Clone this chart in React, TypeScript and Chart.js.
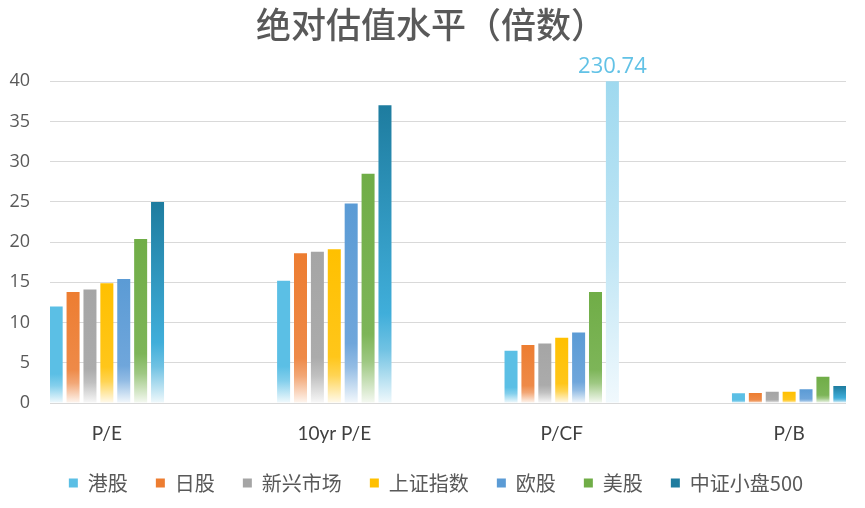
import React, { useEffect, useRef } from 'react';
import { Chart, registerables } from 'chart.js';

Chart.register(...registerables);

const chartTitle = '绝对估值水平（倍数）';
const categories = ['P/E', '10yr P/E', 'P/CF', 'P/B'];
const seriesNames = ['港股', '日股', '新兴市场', '上证指数', '欧股', '美股', '中证小盘500'];
const hkValues = [12.0, 15.2, 6.5, 1.2];
const jpValues = [13.8, 18.6, 7.2, 1.25];
const emValues = [14.1, 18.8, 7.4, 1.4];
const shValues = [14.9, 19.1, 8.1, 1.4];
const euValues = [15.4, 24.8, 8.75, 1.7];
const usValues = [20.4, 28.5, 13.8, 3.25];
const csi500Values = [25.0, 37.0, 230.74, 2.1];
const yTickValues = [0, 5, 10, 15, 20, 25, 30, 35, 40];
const yMin = 0;
const yMax = 40;

const seriesValues = [hkValues, jpValues, emValues, shValues, euValues, usValues, csi500Values];
const seriesColors = ['#5BBFE5', '#ED7D31', '#A5A5A5', '#FFC000', '#5B9BD5', '#70AD47', '#1E7C9F'];
const seriesMidColors = ['#5BBFE5', '#EE8A48', '#ABABAB', '#FFC61A', '#6FA6DB', '#7DB558', '#40AEDA'];
const overflowColor = '#9FD9EF';
const overflowLabelColor = '#62C2E6';

function hexToRgb(h: string) {
  const n = parseInt(h.slice(1), 16);
  return [(n >> 16) & 255, (n >> 8) & 255, n & 255];
}
function mixWhite(h: string, t: number) {
  const [r, g, b] = hexToRgb(h);
  const m = (c: number) => Math.round(c + (255 - c) * t);
  return `rgb(${m(r)},${m(g)},${m(b)})`;
}

const overflowLabelPlugin = {
  id: 'overflowLabel',
  afterDatasetsDraw(chart: any) {
    const { ctx, chartArea } = chart;
    chart.data.datasets.forEach((ds: any, di: number) => {
      const meta = chart.getDatasetMeta(di);
      ds.data.forEach((p: any, i: number) => {
        if (p.y > yMax) {
          const el = meta.data[i];
          ctx.save();
          ctx.font = '22px "Open Sans", "Noto Sans", sans-serif';
          ctx.fillStyle = overflowLabelColor;
          ctx.textAlign = 'center';
          ctx.textBaseline = 'middle';
          ctx.fillText(p.y.toFixed(2), el.x, chartArea.top - 14);
          ctx.restore();
        }
      });
    });
  },
};

// shift title and legend blocks slightly right, as in the reference layout
const blockShiftPlugin = {
  id: 'blockShift',
  afterLayout(chart: any) {
    const lg = chart.legend;
    if (lg) {
      lg.left += 13;
      lg.right += 13;
    }
    const tb = chart.titleBlock;
    if (tb) {
      tb.left += 8;
      tb.right += 8;
    }
  },
};

export default function App() {
  const canvasRef = useRef<HTMLCanvasElement | null>(null);

  useEffect(() => {
    document.body.style.margin = '0';
    const canvas = canvasRef.current;
    if (!canvas) return;

    const datasets = seriesNames.map((name, si) => {
      const color = seriesColors[si];
      const mid = seriesMidColors[si];
      return {
        label: name,
        data: seriesValues[si].map((v, i) => ({ x: i, y: v })),
        borderWidth: 0,
        backgroundColor: (ctx: any) => {
          if (ctx.type !== 'data' || !ctx.raw) return color;
          const chart = ctx.chart;
          const area = chart.chartArea;
          const ys = chart.scales.y;
          if (!area || !ys) return color;
          const v = ctx.raw.y;
          const top = ys.getPixelForValue(Math.min(v, yMax));
          const bottom = ys.getPixelForValue(0);
          if (!(bottom > top)) return color;
          const g = chart.ctx.createLinearGradient(0, top, 0, bottom);
          if (v > yMax) {
            g.addColorStop(0, overflowColor);
            g.addColorStop(0.55, mixWhite(overflowColor, 0.35));
            g.addColorStop(1, mixWhite(overflowColor, 0.85));
            return g;
          }
          g.addColorStop(0, color);
          g.addColorStop(0.7, mid);
          g.addColorStop(0.82, mixWhite(mid, 0.25));
          g.addColorStop(1, mixWhite(mid, 0.92));
          return g;
        },
        categoryPercentage: 0.52,
        barPercentage: 0.77,
      };
    });

    const chart = new Chart(canvas, {
      type: 'bar',
      data: { datasets },
      plugins: [overflowLabelPlugin, blockShiftPlugin],
      options: {
        responsive: false,
        animation: false,
        layout: { padding: { left: 0, right: 19, top: 0, bottom: 5 } },
        plugins: {
          title: {
            display: true,
            text: chartTitle,
            color: '#595959',
            font: { family: '"Noto Sans CJK SC", sans-serif', size: 35, weight: '500' },
            padding: { top: 4, bottom: 35.2 },
          },
          legend: {
            position: 'bottom',
            labels: {
              boxWidth: 9,
              boxHeight: 9,
              padding: 28,
              color: '#595959',
              font: { family: '"Noto Sans CJK SC", sans-serif', size: 20 },
              generateLabels: () =>
                seriesNames.map((name, i) => ({
                  text: name,
                  fillStyle: seriesColors[i],
                  strokeStyle: seriesColors[i],
                  lineWidth: 0,
                  hidden: false,
                  datasetIndex: i,
                  fontColor: '#595959',
                })),
            },
          },
          tooltip: { enabled: false },
        },
        scales: {
          x: {
            type: 'linear',
            offset: false,
            min: -0.25,
            max: 3.25,
            afterBuildTicks: (scale: any) => {
              scale.ticks = categories.map((_, i) => ({ value: i }));
            },
            afterFit: (scale: any) => {
              scale.height = 42;
            },
            ticks: {
              callback: (v: any) => categories[v] ?? '',
              color: '#404040',
              padding: 19,
              maxRotation: 0,
              autoSkip: false,
              font: { family: 'Lato, "Open Sans", sans-serif', size: 19 },
            },
            grid: { display: false, drawTicks: false, offset: false },
            border: { display: false },
          },
          y: {
            min: yMin,
            max: yMax,
            afterBuildTicks: (scale: any) => {
              scale.ticks = yTickValues.map((v) => ({ value: v }));
            },
            afterFit: (scale: any) => {
              scale.width = 50;
            },
            ticks: {
              color: '#595959',
              padding: 20,
              font: { family: '"Open Sans", sans-serif', size: 18 },
            },
            grid: { color: '#D9D9D9', lineWidth: 1, drawTicks: false },
            border: { display: false },
          },
        },
      },
    } as any);

    return () => chart.destroy();
  }, []);

  return (
    <div style={{ position: 'absolute', left: 0, top: 0, width: 865, height: 508, background: '#fff' }}>
      <canvas ref={canvasRef} width={865} height={508} style={{ display: 'block' }} />
    </div>
  );
}
